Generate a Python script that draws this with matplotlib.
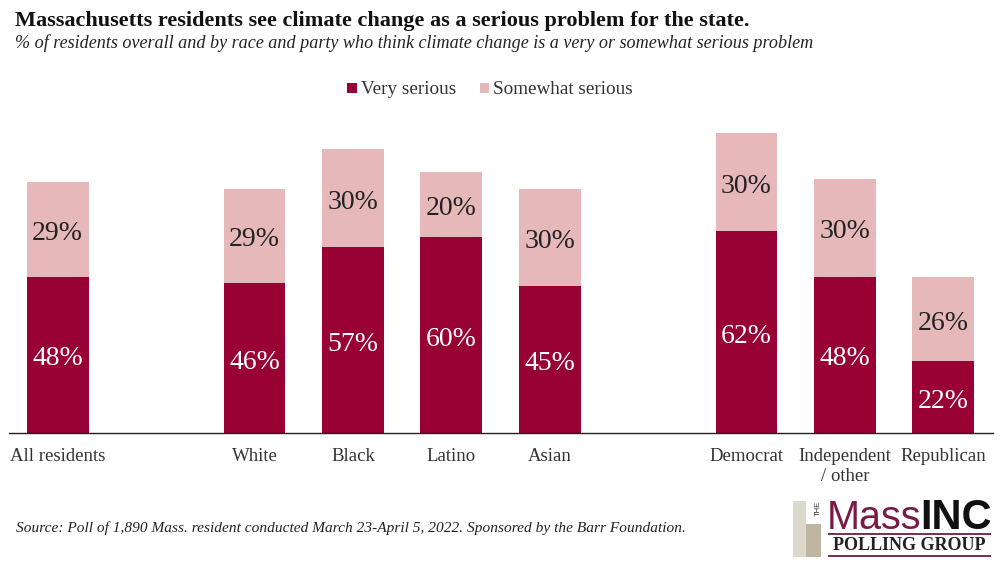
import matplotlib
matplotlib.use('Agg')
import matplotlib.pyplot as plt
from matplotlib.patches import Rectangle

W, H = 1000, 572

groups = ['All residents', 'White', 'Black', 'Latino', 'Asian',
          'Democrat', 'Independent\n/ other', 'Republican']
slots = [0, 2, 3, 4, 5, 7, 8, 9]
very_serious = [48, 46, 57, 60, 45, 62, 48, 22]
somewhat_serious = [29, 29, 30, 20, 30, 30, 30, 26]

DARK = '#990033'
LIGHT = '#E6B8B9'
SERIF = 'Liberation Serif'

plt.rcParams['font.family'] = SERIF


def fx(px):
    return px / W


def fy(py):
    return 1 - py / H


def box(fig, x0, y0, x1, y1, color):
    # rectangle given in image pixels, used for legend keys and the logo
    fig.add_artist(Rectangle((fx(x0), fy(y1)), (x1 - x0) / W, (y1 - y0) / H,
                             transform=fig.transFigure, facecolor=color,
                             edgecolor='none'))


def bar_label(ax, x, y, value, color):
    ax.annotate(f'{value}%', (x, y), xytext=(0, -3), textcoords='offset points',
                ha='center', va='center', color=color, fontsize=20)


fig = plt.figure(figsize=(W / 100, H / 100), dpi=100)

ax = fig.add_axes([fx(8.5), fy(433), 984 / W, 333 / H])
ax.bar(slots, very_serious, width=0.63, color=DARK)
ax.bar(slots, somewhat_serious, width=0.63, bottom=very_serious, color=LIGHT)

for x, v, s in zip(slots, very_serious, somewhat_serious):
    bar_label(ax, x, v / 2, v, 'white')
    bar_label(ax, x, v + s / 2, s, '#222222')

ax.set_xlim(-0.5, 9.5)
ax.set_ylim(0, 333 / 3.26)
ax.set_yticks([])
ax.set_xticks(slots)
ax.set_xticklabels(groups, fontsize=13.5, color='#333333', linespacing=1.3)
ax.tick_params(axis='x', length=0, pad=10.5)
for side in ['top', 'left', 'right']:
    ax.spines[side].set_visible(False)
ax.spines['bottom'].set_color('#222222')
ax.spines['bottom'].set_linewidth(1)

fig.text(fx(15), fy(21), 'Massachusetts residents see climate change as a serious problem for the state.',
         fontsize=16.05, fontweight='bold', color='#111111', va='center')
fig.text(fx(15), fy(43.5), '% of residents overall and by race and party who think climate change is a very or somewhat serious problem',
         fontsize=13.05, style='italic', color='#222222', va='center')

# legend
box(fig, 347, 83, 357, 93, DARK)
fig.text(fx(361), fy(89), 'Very serious', fontsize=13.8, color='#333333', va='center')
box(fig, 480, 83, 489, 93, LIGHT)
fig.text(fx(493), fy(89), 'Somewhat serious', fontsize=13.8, color='#333333', va='center')

fig.text(fx(16), fy(528.5), 'Source: Poll of 1,890 Mass. resident conducted March 23-April 5, 2022. Sponsored by the Barr Foundation.',
         fontsize=11.1, style='italic', color='#222222', va='center')

# logo
box(fig, 793, 501, 806, 557, '#DDD8CC')
box(fig, 806, 524, 821, 557, '#BFB5A0')
fig.text(fx(818), fy(508), 'THE', fontsize=5.5, rotation=90, color='#333333',
         ha='center', va='center', family='Liberation Sans')
fig.text(fx(827), fy(518), 'Mass', fontsize=28.5, color='#7B1B45', va='center',
         family='Liberation Sans')
fig.text(fx(920), fy(518), 'INC', fontsize=30, fontweight='bold', color='#111111',
         va='center', family='Liberation Sans')
box(fig, 828, 533, 991, 534.5, '#7B3355')
fig.text(fx(909), fy(546), 'POLLING GROUP', fontsize=13, fontweight='bold',
         color='#222222', ha='center', va='center')
box(fig, 828, 555, 991, 556.5, '#7B3355')

fig.savefig('out.png', dpi=100)
